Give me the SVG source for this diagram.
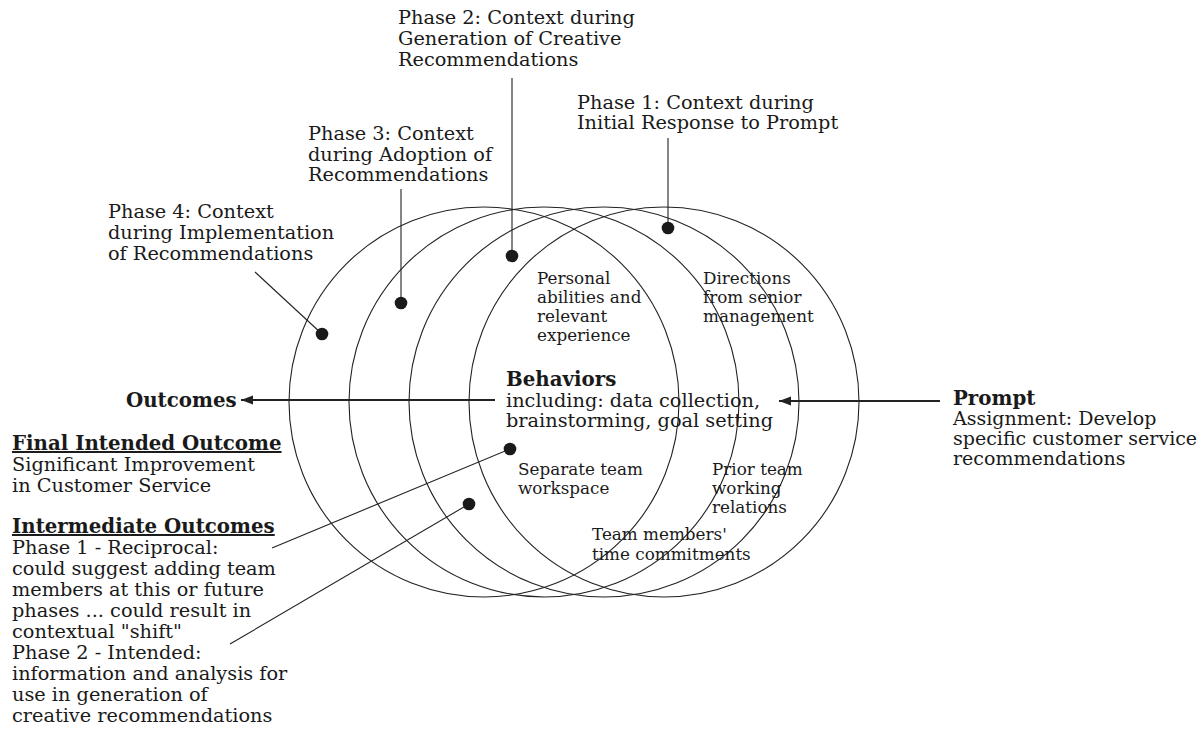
<svg xmlns="http://www.w3.org/2000/svg" width="1200" height="729" viewBox="0 0 1200 729">
<style>
  .t { font-family: "DejaVu Serif", "Liberation Serif", serif; font-size: 19.3px; fill: #1a1a1a; }
  .s { font-family: "DejaVu Serif", "Liberation Serif", serif; font-size: 16.8px; fill: #1a1a1a; }
  .b { font-weight: bold; font-size: 19.8px; }
  .u { text-decoration: underline; }
  .ring { fill: none; stroke: #222; stroke-width: 1.1; }
  .lead { fill: none; stroke: #222; stroke-width: 1.1; }
  .flow { fill: none; stroke: #222; stroke-width: 2.2; }
  .dot { fill: #1a1a1a; }
</style>
<defs>
  <marker id="ah" viewBox="0 0 12 10" refX="12" refY="5" markerWidth="12" markerHeight="10" markerUnits="userSpaceOnUse" orient="auto">
    <path d="M0,0.5 L12,5 L0,9.5 Z" fill="#222"/>
  </marker>
</defs>
<rect width="1200" height="729" fill="#fff"/>

<g id="phases">
  <circle id="phase4" class="ring" cx="484" cy="402" r="195"/>
  <circle id="phase3" class="ring" cx="544" cy="402" r="195"/>
  <circle id="phase2" class="ring" cx="604" cy="402" r="195"/>
  <circle id="phase1" class="ring" cx="664" cy="402" r="195"/>
</g>

<g id="connectors">
  <line class="flow" x1="495" y1="400" x2="241" y2="400" marker-end="url(#ah)"/>
  <line class="flow" x1="940" y1="401" x2="779" y2="401" marker-end="url(#ah)"/>
  <line class="lead" x1="668" y1="138" x2="668" y2="228"/>
  <line class="lead" x1="512" y1="78" x2="512" y2="256"/>
  <line class="lead" x1="401" y1="189" x2="401" y2="303"/>
  <line class="lead" x1="255" y1="272" x2="322" y2="334"/>
  <line class="lead" x1="272" y1="548" x2="510" y2="449"/>
  <line class="lead" x1="230" y1="644" x2="469" y2="504"/>
  <circle class="dot" cx="668" cy="228" r="6.3"/>
  <circle class="dot" cx="512" cy="256" r="6.3"/>
  <circle class="dot" cx="401" cy="303" r="6.3"/>
  <circle class="dot" cx="322" cy="334" r="6.3"/>
  <circle class="dot" cx="510" cy="449" r="6.3"/>
  <circle class="dot" cx="469" cy="504" r="6.3"/>
</g>

<g id="label-phase1">
  <text class="t" x="577" y="109">Phase 1: Context during<tspan x="577" dy="20">Initial Response to Prompt</tspan></text>
</g>
<g id="label-phase2">
  <text class="t" x="398" y="24">Phase 2: Context during<tspan x="398" dy="21">Generation of Creative</tspan><tspan x="398" dy="21">Recommendations</tspan></text>
</g>
<g id="label-phase3">
  <text class="t" x="308" y="140">Phase 3: Context<tspan x="308" dy="21">during Adoption of</tspan><tspan x="308" dy="20">Recommendations</tspan></text>
</g>
<g id="label-phase4">
  <text class="t" x="108" y="218">Phase 4: Context<tspan x="108" dy="21">during Implementation</tspan><tspan x="108" dy="21">of Recommendations</tspan></text>
</g>

<g id="context-personal">
  <text class="s" x="537" y="284">Personal<tspan x="537" dy="19">abilities and</tspan><tspan x="537" dy="19">relevant</tspan><tspan x="537" dy="19">experience</tspan></text>
</g>
<g id="context-directions">
  <text class="s" x="703" y="284">Directions<tspan x="703" dy="19">from senior</tspan><tspan x="703" dy="19">management</tspan></text>
</g>
<g id="behaviors">
  <text class="t" x="506" y="386"><tspan class="b">Behaviors</tspan><tspan x="506" dy="21">including: data collection,</tspan><tspan x="506" dy="20">brainstorming, goal setting</tspan></text>
</g>
<g id="context-workspace">
  <text class="s" x="518" y="475">Separate team<tspan x="518" dy="19">workspace</tspan></text>
</g>
<g id="context-relations">
  <text class="s" x="712" y="475">Prior team<tspan x="712" dy="19">working</tspan><tspan x="712" dy="19">relations</tspan></text>
</g>
<g id="context-time">
  <text class="s" x="592" y="540">Team members'<tspan x="592" dy="20">time commitments</tspan></text>
</g>

<g id="prompt">
  <text class="t" x="953" y="405" style="font-size:19px"><tspan class="b">Prompt</tspan><tspan x="953" dy="20">Assignment: Develop</tspan><tspan x="953" dy="20">specific customer service</tspan><tspan x="953" dy="20">recommendations</tspan></text>
</g>

<g id="outcomes">
  <text class="t b" x="126" y="407">Outcomes</text>
</g>
<g id="final-outcome">
  <text class="t" x="12" y="450"><tspan class="b u">Final Intended Outcome</tspan><tspan x="12" dy="21">Significant Improvement</tspan><tspan x="12" dy="21">in Customer Service</tspan></text>
</g>
<g id="intermediate-outcomes">
  <text class="t" x="12" y="533"><tspan class="b u">Intermediate Outcomes</tspan><tspan x="12" dy="21">Phase 1 - Reciprocal:</tspan><tspan x="12" dy="21">could suggest adding team</tspan><tspan x="12" dy="21">members at this or future</tspan><tspan x="12" dy="21">phases ... could result in</tspan><tspan x="12" dy="21">contextual "shift"</tspan><tspan x="12" dy="21">Phase 2 - Intended:</tspan><tspan x="12" dy="21">information and analysis for</tspan><tspan x="12" dy="21">use in generation of</tspan><tspan x="12" dy="21">creative recommendations</tspan></text>
</g>
</svg>
